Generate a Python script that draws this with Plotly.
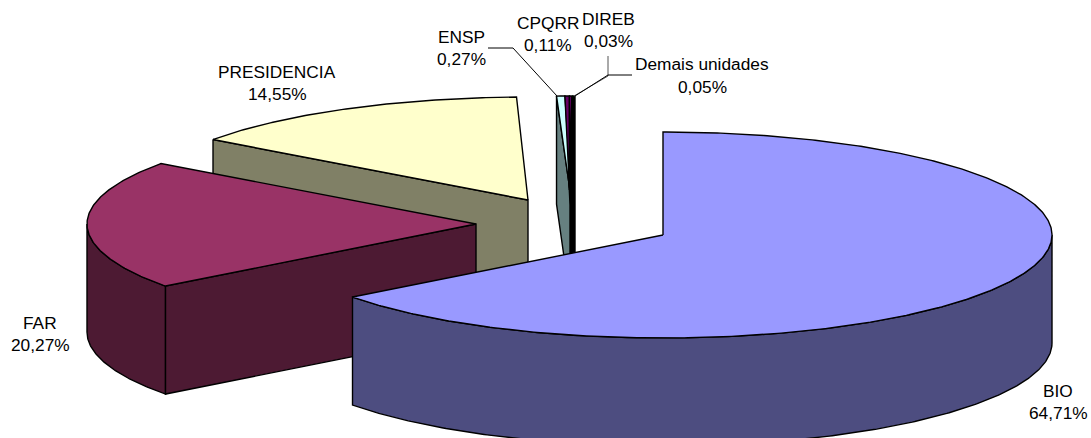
import math
import plotly.graph_objects as go

names = ["BIO", "FAR", "PRESIDENCIA", "ENSP", "CPQRR", "DIREB", "Demais unidades"]
values = [64.71, 20.27, 14.55, 0.27, 0.11, 0.03, 0.05]
top_colors = ["#9999FF", "#993366", "#FFFFCC", "#CCFFFF", "#660066", "#660066", "#000000"]
side_colors = ["#4D4D80", "#4D1A33", "#808066", "#668080", "#330033", "#000000", "#000000"]

# pixel geometry of the drawing
A, B, DEPTH = 389, 103, 108
CENTERS = [(663, 235), (476, 224), (528, 200), (575, 199), (575, 199), (575, 199), (575, 199)]
TINY_EXTRA = 0.074  # thin slices are drawn slightly wider than their share
TINY_APEX = {3: (572, 205), 4: (569.5, 190), 5: (569.5, 190)}
FONT_SIZE = 17.3

LABEL_POS = {
    "BIO": (1058, 391, 1058, 413),
    "FAR": (40, 323, 40, 345),
    "PRESIDENCIA": (277, 72, 277, 94),
    "ENSP": (461, 37, 461, 59),
    "CPQRR": (548, 23, 548, 45),
    "DIREB": (608, 19, 608, 41),
    "Demais unidades": (702, 64, 702, 87),
}
LEADERS = [
    ([488, 513, 557], [48, 48, 96], "#000000"),
    ([608, 608, 574], [56, 76, 96], "#555555"),
    ([632, 608, 575], [75, 75, 96], "#000000"),
]


def pt(c, t, dy=0):
    r = math.radians(t)
    return c[0] + A * math.sin(r), c[1] - B * math.cos(r) + dy


def arc(c, t0, t1, dy=0):
    n = max(2, int(abs(t1 - t0) * 2))
    return [pt(c, t0 + (t1 - t0) * i / n, dy) for i in range(n + 1)]


# slice angles, clockwise from the top of the ellipse
spans = [v * 3.6 for v in values[:3]] + [(v + TINY_EXTRA) * 3.6 for v in values[3:]]
angles = []
cum = 0
for s in spans[:3]:
    angles.append((cum, cum + s))
    cum += s
end = 360
tiny = []
for s in reversed(spans[3:]):
    tiny.append((end - s, end))
    end -= s
angles += list(reversed(tiny))

fig = go.Figure()


def poly(points, color):
    fig.add_trace(go.Scatter(
        x=[p[0] for p in points] + [points[0][0]],
        y=[p[1] for p in points] + [points[0][1]],
        mode="lines", fill="toself", fillcolor=color,
        line=dict(color="#000000", width=1.4), hoverinfo="skip", showlegend=False,
    ))


def draw_slice(i):
    c, (t0, t1) = CENTERS[i], angles[i]
    r0, r1 = max(t0, 90), min(t1, 270)
    if r0 < r1:
        poly(arc(c, r0, r1) + arc(c, r1, r0, DEPTH), side_colors[i])
    if t0 > 180:
        poly([pt(c, t0), c, (c[0], c[1] + DEPTH), pt(c, t0, DEPTH)], side_colors[i])
    poly([c] + arc(c, t0, t1), top_colors[i])


def draw_tiny():
    rim = CENTERS[3]
    # ENSP: grey cut face, then its top wedge
    apex = TINY_APEX[3]
    t0, t1 = angles[3]
    poly([pt(rim, t0), apex, (apex[0], apex[1] + DEPTH), pt(rim, t0, DEPTH)], side_colors[3])
    poly([apex] + arc(rim, t0, t1), top_colors[3])
    # CPQRR and DIREB top wedges
    for i in (4, 5):
        poly([TINY_APEX[i]] + arc(rim, *angles[i]), top_colors[i])
    # Demais unidades: seen as a solid dark block
    t0, t1 = angles[6]
    bottom = rim[1] + DEPTH
    poly(arc(rim, t0, t1) + [(rim[0], bottom), (570, bottom), (570, 205), (568.5, 172)], side_colors[6])


draw_slice(2)
draw_tiny()
draw_slice(1)
draw_slice(0)

for xs, ys, col in LEADERS:
    fig.add_trace(go.Scatter(x=xs, y=ys, mode="lines", line=dict(color=col, width=1),
                             hoverinfo="skip", showlegend=False))

for name, v in zip(names, values):
    x1, y1, x2, y2 = LABEL_POS[name]
    pct = f"{v:.2f}%".replace(".", ",")
    for x, y, s in ((x1, y1, name), (x2, y2, pct)):
        fig.add_annotation(x=x, y=y, text=s, showarrow=False, xanchor="center", yanchor="middle",
                           font=dict(family="Liberation Sans", size=FONT_SIZE, color="#000000"))

fig.update_layout(
    width=1091, height=438, margin=dict(l=0, r=0, t=0, b=0),
    paper_bgcolor="#FFFFFF", plot_bgcolor="#FFFFFF", showlegend=False,
    xaxis=dict(range=[0, 1091], visible=False),
    yaxis=dict(range=[438, 0], visible=False),
)
fig.write_html("out.html", config={"displayModeBar": False},
               post_script="document.body.style.margin='0';document.documentElement.style.overflow='hidden';")
